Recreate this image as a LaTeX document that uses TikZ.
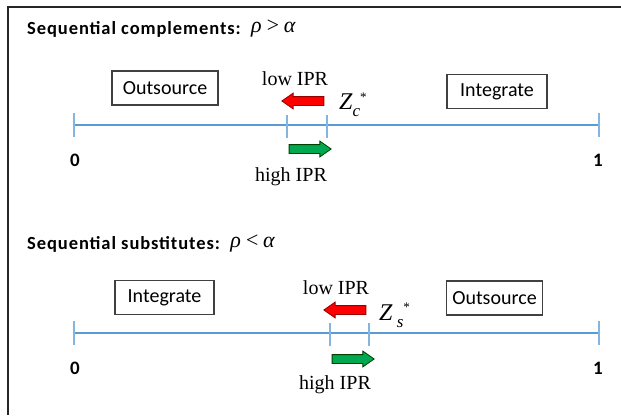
\documentclass[tikz,border=0pt]{standalone}
\usepackage{fontspec}
\setmainfont{Carlito}
\newfontfamily\serif{Liberation Serif}
\newfontfamily\titlefont[LetterSpace=5]{Carlito}
\usetikzlibrary{shapes.arrows}
\definecolor{axisblue}{RGB}{91,155,213}
\definecolor{arrred}{RGB}{255,0,0}
\definecolor{arrgreen}{RGB}{0,168,80}
\begin{document}
\begin{tikzpicture}[x=1pt,y=-1pt,
  paneltitle/.style={anchor=west, font=\titlefont\fontsize{18.5}{20}\selectfont\bfseries, inner sep=0},
  titlemath/.style={font=\serif\itshape\fontsize{22}{24}\selectfont},
  choice/.style={draw=black!75, line width=1.2pt, font=\fontsize{20}{22}\selectfont, inner sep=0, minimum height=34pt},
  ipr/.style={font=\serif\fontsize{20}{22}\selectfont, inner sep=0},
  endlabel/.style={font=\fontsize{19}{21}\selectfont\bfseries, inner sep=0},
  axisline/.style={draw=axisblue, line width=2pt},
  tickline/.style={draw=axisblue!75, line width=1.5pt},
  shiftarrow/.style={single arrow, inner xsep=0pt, inner ysep=4pt, single arrow head extend=3.5pt, single arrow tip angle=70, minimum height=42pt, line width=0.8pt},
  lowarrow/.style={shiftarrow, shape border rotate=180, fill=arrred, draw=red!60!black},
  higharrow/.style={shiftarrow, fill=arrgreen, draw=green!25!black},
  zlabel/.style={anchor=base west, font=\serif\itshape\fontsize{24}{26}\selectfont, inner sep=0}
]
\useasboundingbox (0,0) rectangle (621,415);
\fill[white] (0,0) rectangle (621,415);
\draw[line width=2pt, black!85] (8,415) -- (8,7) -- (621,7);

% ---------- top panel ----------
\node[paneltitle] (t1) at (27,29) {Sequential complements:};
\node[titlemath, anchor=west, inner sep=0] (m1) at ([xshift=10pt]t1.east) {ρ\,>\,α};
\node[choice, minimum width=106pt] (out1) at (165,88) {Outsource};
\node[choice, minimum width=100pt] (int1) at (497,91.5) {Integrate};
\coordinate (a1l) at (74,125);
\coordinate (a1r) at (599,125);
\draw[axisline] (a1l) -- (a1r);
\draw[tickline] (74,113) -- (74,137);
\draw[tickline] (599,113) -- (599,137);
\draw[tickline] (287,115) -- (287,138);
\draw[tickline] (327,115) -- (327,138);
\node[ipr] (low1) at (295,79) {low IPR};
\node[lowarrow] (ra1) at (306,101) {};
\node[zlabel] (z1) at (339,109.5) {Z\raisebox{-0.3em}{\fontsize{17}{17}\selectfont c}\raisebox{0.35em}{\fontsize{13}{13}\selectfont\upshape *}};
\node[endlabel] (zero1) at (75,160) {0};
\node[endlabel] (one1) at (598,160) {1};
\node[higharrow] (ga1) at (307,149) {};
\node[ipr] (high1) at (291,177) {high IPR};

% ---------- bottom panel ----------
\node[paneltitle] (t2) at (27,244) {Sequential substitutes:};
\node[titlemath, anchor=west, inner sep=0] (m2) at ([xshift=10pt]t2.east) {ρ\,<\,α};
\node[choice, minimum width=99pt] (int2) at (164.5,297.5) {Integrate};
\node[choice, minimum width=96pt] (out2) at (494.5,298) {Outsource};
\coordinate (a2l) at (74,333);
\coordinate (a2r) at (599,333);
\draw[axisline] (a2l) -- (a2r);
\draw[tickline] (74,321) -- (74,345);
\draw[tickline] (599,321) -- (599,345);
\draw[tickline] (330,323) -- (330,346);
\draw[tickline] (369,323) -- (369,346);
\node[ipr] (low2) at (336,288) {low IPR};
\node[lowarrow] (ra2) at (348,310) {};
\node[zlabel] (z2) at (379,320) {Z\raisebox{-0.3em}{\fontsize{17}{17}\selectfont\ s}\raisebox{0.35em}{\fontsize{13}{13}\selectfont\upshape *}};
\node[endlabel] (zero2) at (75,368) {0};
\node[endlabel] (one2) at (598,368) {1};
\node[higharrow] (ga2) at (350,359) {};
\node[ipr] (high2) at (335,385) {high IPR};
\end{tikzpicture}
\end{document}
